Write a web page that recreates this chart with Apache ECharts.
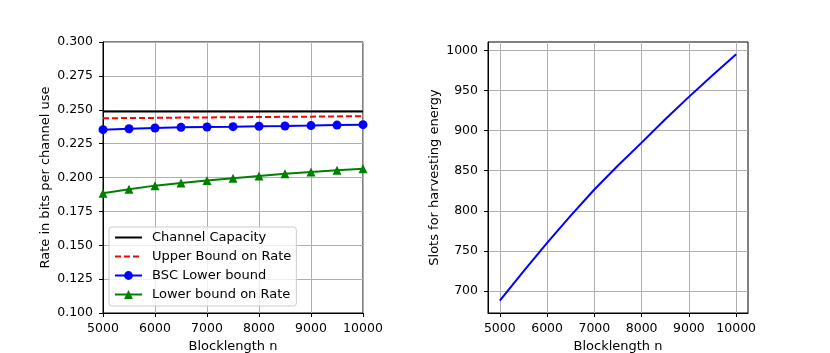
<!DOCTYPE html>
<html>
<head>
<meta charset="utf-8">
<script src="https://cdn.jsdelivr.net/npm/echarts@6/dist/echarts.min.js"></script>
<style>
html,body{margin:0;padding:0;background:#fff;}
#c{width:830px;height:353px;}
</style>
</head>
<body>
<div id="c"></div>
<script>
// ---- data ----
var blocklengths = [5000, 5500, 6000, 6500, 7000, 7500, 8000, 8500, 9000, 9500, 10000];
var channelCapacity = [0.2488, 0.2488, 0.2488, 0.2488, 0.2488, 0.2488, 0.2488, 0.2488, 0.2488, 0.2488, 0.2488];
var upperBound = [0.2437, 0.2439, 0.2440, 0.2442, 0.2443, 0.2445, 0.2446, 0.2448, 0.2449, 0.2451, 0.2452];
var bscLower = [0.2353, 0.2360, 0.2365, 0.2370, 0.2373, 0.2375, 0.2378, 0.2380, 0.2383, 0.2387, 0.2390];
var lowerBound = [0.1883, 0.1913, 0.1940, 0.1959, 0.1977, 0.1994, 0.2011, 0.2028, 0.2041, 0.2053, 0.2065];
var harvestSlots = [688, 724.5, 760, 794, 826.5, 856.5, 885, 914, 942, 969, 995];
var rightXTicks = [5000, 6000, 7000, 8000, 9000, 10000];
var rightYTicks = [700, 750, 800, 850, 900, 950, 1000];
var seriesNames = ['Channel Capacity', 'Upper Bound on Rate', 'BSC Lower bound', 'Lower bound on Rate'];

function pairs(xs, ys) { return xs.map(function (x, i) { return [x, ys[i]]; }); }

var font = 'DejaVu Sans';
function plain(v) { return String(v); }
var axisCommon = {
  axisLine: { show: true, onZero: false, lineStyle: { color: '#000', width: 1 } },
  axisTick: { show: true, inside: false, length: 4, lineStyle: { color: '#000', width: 1 } },
  axisLabel: { color: '#000', fontFamily: font, fontSize: 12.5, margin: 10 },
  splitLine: { show: true, lineStyle: { color: '#b0b0b0', width: 1 } },
  nameLocation: 'middle',
  nameTextStyle: { color: '#000', fontFamily: font, fontSize: 13 }
};
function ax(extra) {
  var o = JSON.parse(JSON.stringify(axisCommon));
  for (var k in extra) {
    if (extra[k] && typeof extra[k] === 'object' && !Array.isArray(extra[k]) && o[k]) {
      for (var j in extra[k]) o[k][j] = extra[k][j];
    } else o[k] = extra[k];
  }
  return o;
}

var chart = echarts.init(document.getElementById('c'), null, { renderer: 'canvas' });
var option = {
  animation: false,
  backgroundColor: '#fff',
  grid: [
    { left: 103, top: 42, width: 260, height: 271, outerBoundsMode: 'none', containLabel: false,
      show: true, borderColor: '#000', borderWidth: 1, backgroundColor: 'transparent' },
    { left: 488, top: 42, width: 260, height: 271, outerBoundsMode: 'none', containLabel: false,
      show: true, borderColor: '#000', borderWidth: 1, backgroundColor: 'transparent' }
  ],
  xAxis: [
    ax({ type: 'value', gridIndex: 0, min: 5000, max: 10000, interval: 1000, name: 'Blocklength n', nameGap: 25,
         axisLabel: { margin: 9, formatter: plain } }),
    ax({ type: 'value', gridIndex: 1, min: 4750, max: 10250, name: 'Blocklength n', nameGap: 25,
         axisTick: { customValues: rightXTicks }, axisLabel: { margin: 9, customValues: rightXTicks, formatter: plain } })
  ],
  yAxis: [
    ax({ type: 'value', gridIndex: 0, min: 0.1, max: 0.3, interval: 0.025, name: 'Rate in bits per channel use', nameGap: 51,
         axisLabel: { formatter: function (v) { return v.toFixed(3); } } }),
    ax({ type: 'value', gridIndex: 1, min: 672.6, max: 1010.4, name: 'Slots for harvesting energy', nameGap: 47,
         axisTick: { customValues: rightYTicks }, axisLabel: { customValues: rightYTicks, formatter: plain } })
  ],
  legend: {
    data: [
      { name: seriesNames[0], itemStyle: { opacity: 0 } },
      { name: seriesNames[1], itemStyle: { opacity: 0 } },
      { name: seriesNames[2] },
      { name: seriesNames[3] }
    ],
    orient: 'vertical',
    left: 109, top: 227,
    padding: [3, 5, 4, 5],
    itemWidth: 27, itemHeight: 11, itemGap: 4,
    borderColor: '#cccccc', borderWidth: 1, borderRadius: 3,
    backgroundColor: 'rgba(255,255,255,0.8)',
    textStyle: { color: '#000', fontFamily: font, fontSize: 13, lineHeight: 15, padding: [0, 0, 0, 5] }
  },
  series: [
    { name: seriesNames[0], type: 'line', xAxisIndex: 0, yAxisIndex: 0, data: pairs(blocklengths, channelCapacity),
      symbol: 'none', lineStyle: { color: '#000', width: 2 }, itemStyle: { color: '#000' } },
    { name: seriesNames[1], type: 'line', xAxisIndex: 0, yAxisIndex: 0, data: pairs(blocklengths, upperBound),
      symbol: 'none', lineStyle: { color: '#ff0000', width: 2, type: [6, 3] }, itemStyle: { color: '#ff0000' } },
    { name: seriesNames[2], type: 'line', xAxisIndex: 0, yAxisIndex: 0, data: pairs(blocklengths, bscLower),
      symbol: 'circle', symbolSize: 9, lineStyle: { color: '#0000ff', width: 2 }, itemStyle: { color: '#0000ff' } },
    { name: seriesNames[3], type: 'line', xAxisIndex: 0, yAxisIndex: 0, data: pairs(blocklengths, lowerBound),
      symbol: 'triangle', symbolSize: 9, lineStyle: { color: '#008000', width: 2 }, itemStyle: { color: '#008000' } },
    { name: 'Slots', type: 'line', xAxisIndex: 1, yAxisIndex: 1, data: pairs(blocklengths, harvestSlots),
      symbol: 'none', lineStyle: { color: '#0000ff', width: 2 } }
  ]
};
chart.setOption(option);
</script>
</body>
</html>
